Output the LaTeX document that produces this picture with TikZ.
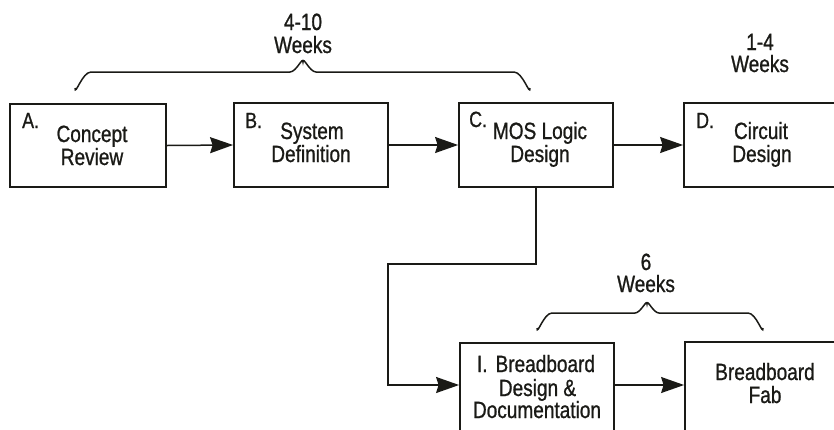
\documentclass[tikz,border=0pt]{standalone}
\usepackage{fontspec}
\setmainfont[FakeStretch=0.81, FakeBold=0.9]{Liberation Sans}
\usetikzlibrary{arrows.meta}
\definecolor{ink}{HTML}{1A1A16}
\tikzset{
  box/.style={draw=ink, line width=1.8pt, rectangle, inner sep=0pt, minimum width=154pt, minimum height=84pt},
  lbl/.style={anchor=base, inner sep=0pt, text=ink, font=\fontsize{23.5}{25}\selectfont},
  tag/.style={anchor=base west, inner sep=0pt, text=ink, font=\fontsize{22}{25}\selectfont},
  arr/.style={draw=ink, line width=1.5pt, -{Stealth[length=23pt, width=16pt, inset=2.5pt]}},
  brace/.style={draw=ink, line width=1.5pt},
}
\begin{document}
\begin{tikzpicture}[x=1pt, y=-1pt]
\clip (0,0) rectangle (834,429);
% boxes
\node[box, minimum width=156pt, minimum height=83pt] (A) at (88,145.5) {};
\node[box] (B) at (311,145) {};
\node[box] (C) at (536,145) {};
\node[box] (D) at (761,145) {};
\node[box, minimum height=100pt] (I) at (537,393) {};
\node[box, minimum height=100pt] (F) at (762,392) {};
% box texts
\node[tag] (tA) at (22,128) {A.};
\node[lbl] (a1) at (92,142) {Concept};
\node[lbl] (a2) at (92,165) {Review};
\node[tag] (tB) at (245,128) {B.};
\node[lbl] (b1) at (312,139) {System};
\node[lbl] (b2) at (311,162) {Definition};
\node[tag] (tC) at (469,127) {C.};
\node[lbl] (c1) at (540,139) {MOS Logic};
\node[lbl] (c2) at (540,162) {Design};
\node[tag] (tD) at (696,128) {D.};
\node[lbl] (d1) at (761,139) {Circuit};
\node[lbl] (d2) at (762,162) {Design};
\node[lbl] (i1) at (536,372) {I.\hspace{8pt}Breadboard};
\node[lbl] (i2) at (537.5,396) {Design \&};
\node[lbl] (i3) at (537,418) {Documentation};
\node[lbl] (f1) at (765,380) {Breadboard};
\node[lbl] (f2) at (765,403) {Fab};
% duration labels
\node[lbl] (w1a) at (303,30) {4-10};
\node[lbl] (w1b) at (303,53) {Weeks};
\node[lbl] (w2a) at (760,50) {1-4};
\node[lbl] (w2b) at (760,72) {Weeks};
\node[lbl] (w3a) at (646,270) {6};
\node[lbl] (w3b) at (646,292) {Weeks};
% braces
\draw[brace] (75,88) to[out=-90,in=180] (91,72) -- (290,72) to[out=0,in=90] (303,62)
  to[out=90,in=180] (316,72) -- (514,72) to[out=0,in=-90] (530,88);
\draw[brace] (537,328) to[out=-90,in=180] (552,313) -- (635,313) to[out=0,in=90] (647,304)
  to[out=90,in=180] (659,313) -- (748,313) to[out=0,in=-90] (763,328);
% connectors
\draw[arr] (A.east) -- (B.west);
\draw[arr] (B.east) -- (C.west);
\draw[arr] (C.east) -- (D.west);
\coordinate (k1) at (388,264);
\coordinate (k2) at (388,385);
\draw[arr] (C.south) |- (k1) -- (k2) -- (k2 -| I.west);
\draw[arr] ([yshift=8pt]I.east) -- ([yshift=8pt]I.east -| F.west);
\end{tikzpicture}
\end{document}
